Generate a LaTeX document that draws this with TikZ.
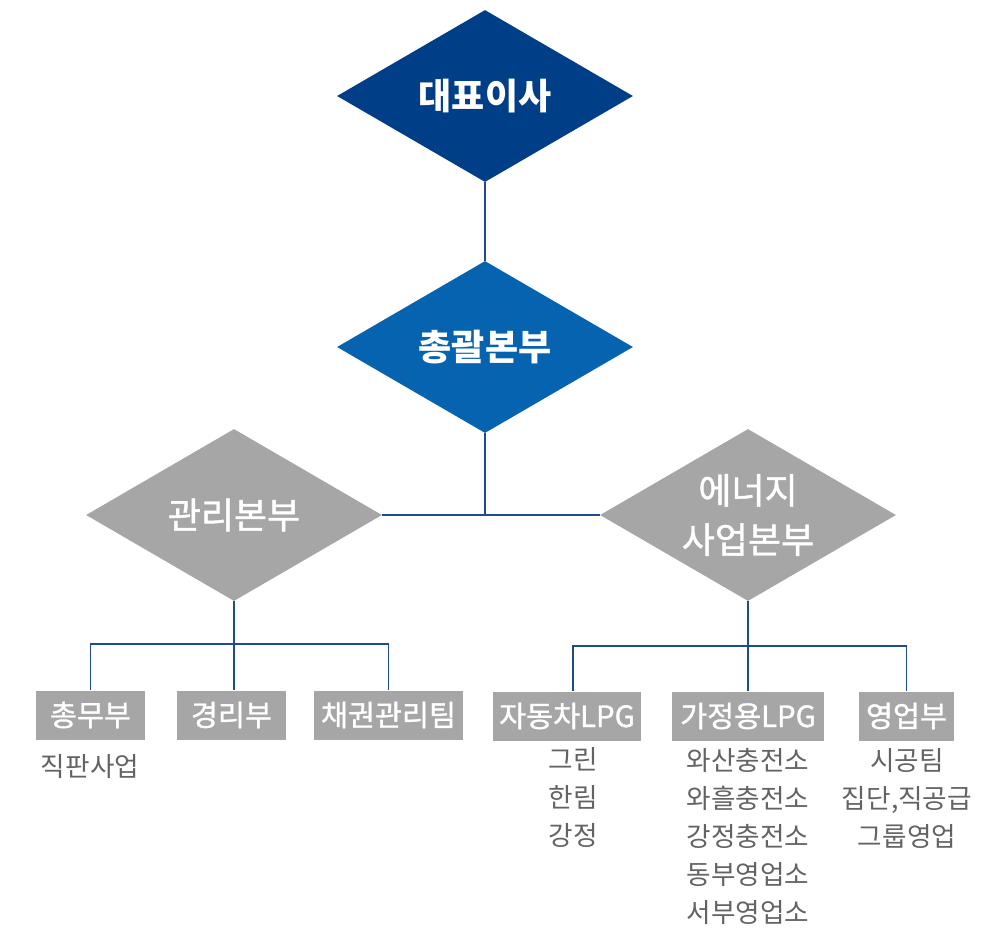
\documentclass[tikz,border=0pt]{standalone}
\usepackage{fontspec}
\setmainfont{Noto Sans CJK KR}
\newfontfamily\mediumfont[FakeBold=1.2]{Noto Sans CJK KR}
\usepackage{tikz}
\usetikzlibrary{shapes.geometric, positioning}
\definecolor{ceoBlue}{HTML}{003F87}
\definecolor{hqBlue}{HTML}{0563B0}
\definecolor{divGrey}{HTML}{A6A6A6}
\definecolor{lineBlue}{HTML}{1F4B8E}
\definecolor{subGrey}{HTML}{636363}

\begin{document}
\begin{tikzpicture} [
    x=0.75pt, y=-0.75pt,
    ceoNode/.style={diamond, aspect=1.72, fill=ceoBlue, text=white, inner sep=0pt, minimum width=222pt, minimum height=129pt, font=\fontsize{27}{30}\selectfont\bfseries},
    hqNode/.style={ceoNode, fill=hqBlue},
    divNode/.style={ceoNode, fill=divGrey, align=center, font=\fontsize{27}{37}\selectfont\mediumfont},
    teamBox/.style={rectangle, fill=divGrey, text=white, inner sep=0pt, minimum height=36.75pt, font=\fontsize{22}{24}\selectfont\mediumfont},
    subText/.style={align=center, text=subGrey, inner sep=0pt, font=\fontsize{20}{28.5}\selectfont},
    orgLine/.style={line width=0.8pt, color=lineBlue}
]
    \useasboundingbox (0,0) rectangle (987,943);

    % top of the chart
    \node[ceoNode] (ceo) at (485,96) {대표이사};
    \node[hqNode] (hq) at (485,347) {총괄본부};
    \node[divNode] (mgmt) at (234,515) {관리본부};
    \node[divNode] (energy) at (748,515) {에너지\\사업본부};

    % teams
    \node[teamBox, minimum width=82pt] (general) at (90.5,715) {총무부};
    \node[teamBox, minimum width=82pt] (account) at (231.5,715) {경리부};
    \node[teamBox, minimum width=112pt] (bond) at (388.5,715) {채권관리팀};
    \node[teamBox, minimum width=111pt] (autoLPG) at (567,716) {자동차LPG};
    \node[teamBox, minimum width=114pt] (homeLPG) at (748,716) {가정용LPG};
    \node[teamBox, minimum width=71pt] (sales) at (906.5,716) {영업부};

    \node[subText] (directSales) at (90,766) {직판사업};
    \node[subText] (autoSites) at (573,797) {그린\\한림\\강정};
    \node[subText] (homeSites) at (748,836) {와산충전소\\와흘충전소\\강정충전소\\동부영업소\\서부영업소};
    \node[subText] (salesTeams) at (907,798) {시공팀\\집단,직공급\\그룹영업};

    \coordinate (mgmtBus) at (234,644);
    \coordinate (energyBus) at (748,646);

    \draw [orgLine] (ceo) -- (hq);
    \draw [orgLine] (hq.south) -- (hq.south |- mgmt.east);
    \draw [orgLine] (mgmt.east) -- (energy.west);
    \draw [orgLine] (mgmt.south) -- (account.north -| mgmt.south);
    \draw [orgLine] (general.north) |- (mgmtBus) -| (bond.north);
    \draw [orgLine] (energy.south) -- (homeLPG.north);
    \draw [orgLine] (autoLPG.north -| autoSites) |- (energyBus) -| (sales.north);
\end{tikzpicture}
\end{document}
